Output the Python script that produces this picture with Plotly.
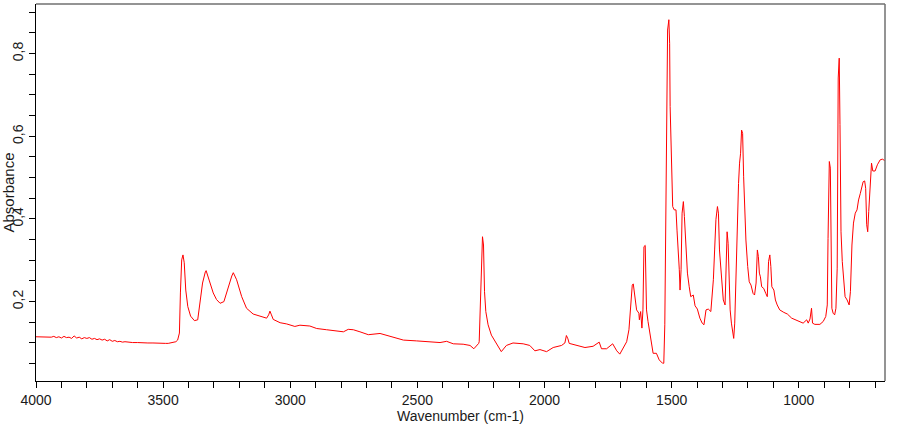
import plotly.graph_objects as go

# Wavenumber (cm-1) and absorbance
wavenumber = [
    4000, 3990, 3980, 3970, 3960, 3950, 3940, 3930, 3920, 3910, 3900, 3890, 3880,
    3870, 3860, 3850, 3840, 3830, 3820, 3810, 3800, 3790, 3780, 3770, 3760, 3750,
    3740, 3730, 3720, 3710, 3700, 3690, 3680, 3670, 3660, 3650, 3640, 3620, 3600,
    3580, 3560, 3540, 3520, 3500, 3490, 3480, 3470, 3460, 3450, 3443, 3436, 3432,
    3427, 3422, 3417, 3411, 3403, 3392, 3377, 3364, 3354, 3345, 3334, 3331, 3318,
    3303, 3290, 3276, 3261, 3244, 3230, 3224, 3211, 3191, 3172, 3146, 3119, 3093,
    3085, 3080, 3074, 3067, 3040, 3014, 2982, 2962, 2923, 2896, 2857, 2818, 2791,
    2772, 2752, 2726, 2693, 2647, 2608, 2555, 2503, 2451, 2411, 2385, 2359, 2320,
    2293, 2278, 2267, 2259, 2257, 2252, 2248, 2244, 2240, 2236, 2231, 2222, 2209,
    2189, 2170, 2150, 2124, 2084, 2058, 2038, 2018, 1992, 1966, 1933, 1920, 1914,
    1908, 1903, 1874, 1841, 1809, 1785, 1776, 1756, 1732, 1716, 1704, 1690, 1677,
    1668, 1661, 1655, 1651, 1644, 1638, 1629, 1627, 1622, 1617, 1613, 1609, 1604,
    1599, 1593, 1583, 1573, 1560, 1549, 1536, 1531, 1527, 1522, 1516, 1511, 1508,
    1506, 1501, 1496, 1490, 1483, 1479, 1474, 1470, 1467, 1463, 1459, 1454, 1450,
    1443, 1438, 1431, 1425, 1415, 1408, 1399, 1389, 1380, 1373, 1365, 1356, 1346,
    1341, 1336, 1331, 1326, 1320, 1316, 1312, 1307, 1302, 1297, 1290, 1286, 1282,
    1278, 1274, 1270, 1265, 1260, 1256, 1252, 1248, 1243, 1237, 1233, 1229, 1225,
    1221, 1217, 1213, 1208, 1201, 1195, 1188, 1180, 1174, 1168, 1163, 1159, 1155,
    1151, 1146, 1138, 1130, 1124, 1119, 1114, 1110, 1106, 1098, 1092, 1085, 1075,
    1059, 1045, 1028, 1002, 983, 969, 963, 956, 950, 946, 937, 917, 904, 894, 888,
    885, 880, 876, 874, 870, 865, 859, 854, 849, 845, 841, 838, 834, 829, 823, 818,
    810, 802, 797, 791, 785, 778, 771, 765, 758, 752, 747, 741, 737, 733, 729, 725,
    720, 714, 709, 700, 691, 680, 670, 662,
]

absorbance = [
    0.115, 0.115, 0.115, 0.115, 0.114, 0.115, 0.114, 0.116, 0.113, 0.115, 0.112, 0.116, 0.113,
    0.114, 0.111, 0.117, 0.112, 0.114, 0.110, 0.113, 0.111, 0.113, 0.109, 0.111, 0.108, 0.110,
    0.107, 0.109, 0.105, 0.108, 0.104, 0.106, 0.103, 0.104, 0.102, 0.103, 0.102, 0.101, 0.101,
    0.100, 0.100, 0.100, 0.099, 0.098, 0.099, 0.099, 0.100, 0.101, 0.103, 0.107, 0.124, 0.221,
    0.301, 0.313, 0.294, 0.228, 0.188, 0.165, 0.154, 0.156, 0.197, 0.245, 0.272, 0.275, 0.250,
    0.221, 0.205, 0.196, 0.200, 0.236, 0.262, 0.270, 0.253, 0.212, 0.184, 0.170, 0.165, 0.160,
    0.168, 0.177, 0.168, 0.157, 0.149, 0.146, 0.140, 0.143, 0.141, 0.135, 0.132, 0.130, 0.127,
    0.133, 0.132, 0.127, 0.120, 0.123, 0.117, 0.107, 0.105, 0.102, 0.101, 0.104, 0.098, 0.097,
    0.094, 0.086, 0.093, 0.099, 0.103, 0.204, 0.289, 0.357, 0.337, 0.224, 0.176, 0.144, 0.119,
    0.099, 0.079, 0.094, 0.100, 0.098, 0.094, 0.081, 0.084, 0.079, 0.089, 0.094, 0.100, 0.118,
    0.110, 0.099, 0.094, 0.089, 0.092, 0.102, 0.086, 0.086, 0.098, 0.081, 0.073, 0.087, 0.103,
    0.132, 0.180, 0.240, 0.243, 0.204, 0.180, 0.172, 0.156, 0.176, 0.136, 0.180, 0.333, 0.336,
    0.180, 0.152, 0.107, 0.075, 0.075, 0.059, 0.051, 0.051, 0.144, 0.502, 0.857, 0.882, 0.825,
    0.672, 0.559, 0.430, 0.422, 0.422, 0.373, 0.325, 0.277, 0.228, 0.277, 0.414, 0.442, 0.406,
    0.341, 0.269, 0.236, 0.212, 0.216, 0.190, 0.182, 0.160, 0.148, 0.144, 0.180, 0.182, 0.176,
    0.212, 0.253, 0.325, 0.398, 0.430, 0.414, 0.325, 0.285, 0.245, 0.204, 0.192, 0.260, 0.369,
    0.341, 0.236, 0.180, 0.148, 0.127, 0.111, 0.148, 0.245, 0.357, 0.486, 0.535, 0.559, 0.615,
    0.607, 0.502, 0.430, 0.349, 0.285, 0.248, 0.240, 0.220, 0.216, 0.245, 0.325, 0.309, 0.269,
    0.260, 0.236, 0.232, 0.220, 0.212, 0.297, 0.313, 0.285, 0.236, 0.228, 0.204, 0.192, 0.180,
    0.174, 0.170, 0.160, 0.153, 0.148, 0.156, 0.148, 0.158, 0.184, 0.148, 0.145, 0.145, 0.152, 0.164, 0.192,
    0.353, 0.539, 0.523, 0.337, 0.184, 0.172, 0.168, 0.184, 0.281, 0.741, 0.789, 0.628, 0.369, 0.297, 0.248, 0.212,
    0.204, 0.192, 0.224, 0.337, 0.390, 0.414, 0.422, 0.446, 0.462, 0.474, 0.490, 0.492, 0.474, 0.386, 0.369, 0.418,
    0.466, 0.535, 0.516, 0.516, 0.531, 0.543, 0.545, 0.540,
]

FONT = "Liberation Sans, Arial, sans-serif"

fig = go.Figure(
    go.Scatter(
        x=wavenumber,
        y=absorbance,
        mode="lines",
        line=dict(color="#ff0000", width=1),
        showlegend=False,
    )
)

fig.update_layout(
    width=910,
    height=425,
    margin=dict(l=36, r=25, t=4, b=44),
    paper_bgcolor="white",
    plot_bgcolor="white",
    separators=", ",
    font=dict(family=FONT, size=14, color="#1a1a1a"),
    shapes=[
        dict(type="line", xref="paper", yref="paper", x0=0, x1=1, y0=1, y1=1,
             line=dict(color="#707070", width=1.5)),
        dict(type="line", xref="paper", yref="paper", x0=1, x1=1, y0=0, y1=1,
             line=dict(color="#707070", width=1.5)),
    ],
)

fig.update_xaxes(
    range=[4000, 661],
    tick0=0,
    dtick=500,
    ticks="outside",
    ticklen=6,
    tickcolor="black",
    showline=True,
    linecolor="black",
    linewidth=1,
    showgrid=False,
    zeroline=False,
    tickfont=dict(family=FONT, size=14),
    minor=dict(dtick=100, tick0=0, ticks="outside", ticklen=6, tickcolor="black", showgrid=False),
    title=dict(text="Wavenumber (cm-1)", font=dict(family=FONT, size=14), standoff=4),
    automargin=False,
)

fig.update_yaxes(
    range=[0.008, 0.92],
    tick0=0,
    dtick=0.2,
    ticks="outside",
    ticklen=6,
    tickcolor="black",
    tickangle=-90,
    showline=True,
    linecolor="black",
    linewidth=1,
    showgrid=False,
    zeroline=False,
    tickfont=dict(family=FONT, size=14),
    minor=dict(dtick=0.05, tick0=0, ticks="outside", ticklen=6, tickcolor="black", showgrid=False),
    title=dict(text="Absorbance", font=dict(family=FONT, size=15), standoff=0),
    automargin=False,
)

fig.write_html("out.html")
